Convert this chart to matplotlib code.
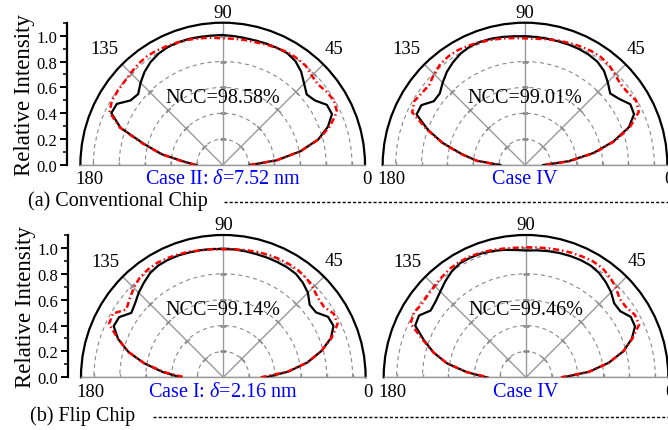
import numpy as np
import matplotlib
matplotlib.use("Agg")
import matplotlib.pyplot as plt
from matplotlib.lines import Line2D
from matplotlib.transforms import offset_copy

plt.rcParams['font.family'] = ['Liberation Serif', 'DejaVu Serif']
plt.rcParams['mathtext.fontset'] = 'custom'
plt.rcParams['mathtext.rm'] = 'Liberation Serif'
plt.rcParams['mathtext.it'] = 'Liberation Serif:italic'

# sample angles (deg) and relative intensity
theta_deg = np.arange(0, 181, 5)

tl_black = [0.21, 0.42, 0.61, 0.765, 0.866, 0.932, 0.93, 0.87, 0.848, 0.89, 0.943, 0.98, 0.998,
            0.998, 0.997, 0.995, 0.996, 1.0, 1.005, 1.004, 1.006, 1.009, 1.009, 1.006, 0.993,
            0.972, 0.94, 0.898, 0.853, 0.87, 0.945, 0.95, 0.84, 0.63, 0.478, 0.30, 0.204]
tl_red = [0.21, 0.42, 0.61, 0.77, 0.885, 0.975, 0.993, 0.984, 0.965, 0.975, 1.0, 1.005, 1.006,
          0.997, 0.99, 0.982, 0.981, 0.98, 0.979, 0.988, 0.995, 1.003, 1.01, 1.015, 1.022,
          1.024, 1.018, 1.005, 0.996, 0.993, 0.99, 0.965, 0.845, 0.64, 0.48, 0.31, 0.21]
tr_black = [0.14, 0.34, 0.54, 0.71, 0.855, 0.93, 0.94, 0.89, 0.86, 0.905, 0.95, 0.975, 0.985,
            0.989, 0.99, 0.99, 0.991, 0.993, 0.995, 0.999, 1.005, 1.011, 1.013, 1.01, 0.995,
            0.97, 0.94, 0.90, 0.86, 0.86, 0.925, 0.925, 0.80, 0.66, 0.50, 0.375, 0.19]
tr_red = [0.16, 0.35, 0.55, 0.72, 0.865, 0.97, 0.993, 0.972, 0.968, 0.985, 1.01, 1.02, 1.019,
          1.012, 1.004, 0.995, 0.987, 0.98, 0.979, 0.985, 0.993, 1.002, 1.012, 1.02, 1.028,
          1.028, 1.018, 0.995, 0.965, 0.972, 0.988, 0.962, 0.81, 0.66, 0.51, 0.375, 0.20]
bl_black = [0.33, 0.505, 0.66, 0.785, 0.885, 0.94, 0.935, 0.875, 0.872, 0.925, 0.956, 0.977, 0.983,
            0.984, 0.985, 0.986, 0.989, 0.992, 0.992, 0.995, 0.998, 1.0, 1.004, 1.004, 1.0,
            0.985, 0.955, 0.925, 0.89, 0.868, 0.93, 0.935, 0.865, 0.76, 0.62, 0.47, 0.33]
bl_red = [0.29, 0.50, 0.66, 0.785, 0.89, 0.975, 0.985, 0.95, 0.955, 0.98, 1.0, 1.01, 1.012,
          1.011, 1.009, 1.004, 0.998, 0.993, 0.99, 0.993, 0.997, 1.006, 1.012, 1.018, 1.022,
          1.017, 1.005, 0.978, 0.945, 0.915, 0.985, 0.975, 0.865, 0.76, 0.62, 0.46, 0.30]
br_black = [0.29, 0.49, 0.65, 0.78, 0.87, 0.93, 0.935, 0.89, 0.89, 0.93, 0.96, 0.985, 0.998,
            1.0, 0.998, 0.995, 0.99, 0.985, 0.98, 0.988, 1.0, 1.01, 1.018, 1.02, 1.019,
            1.0, 0.97, 0.937, 0.912, 0.90, 0.955, 0.945, 0.84, 0.74, 0.62, 0.46, 0.306]
br_red = [0.27, 0.49, 0.65, 0.78, 0.875, 0.965, 0.97, 0.945, 0.945, 0.982, 1.01, 1.03, 1.035,
          1.03, 1.025, 1.018, 1.012, 1.008, 1.005, 1.005, 1.01, 1.018, 1.025, 1.03, 1.03,
          1.025, 1.012, 1.0, 0.99, 0.985, 1.0, 0.985, 0.85, 0.74, 0.62, 0.46, 0.29]

ncc_text = ['NCC=98.58%', 'NCC=99.01%', 'NCC=99.14%', 'NCC=99.46%']
case_text = ['Case II: $\\delta$=7.52 nm', 'Case IV', 'Case I: $\\delta$=2.16 nm', 'Case IV']
row_text = ['(a) Conventional Chip', '(b) Flip Chip']

W, H = 668, 431
fig = plt.figure(figsize=(W / 100, H / 100), dpi=100)

GRAY = '#999999'


def px_rect(cx, cy, R):
    # polar axes box is square; the half disc sits with its baseline at 1/4 height
    return [(cx - R) / W, (H - cy - R / 2) / H, 2 * R / W, 2 * R / H]


def half_polar(rect, black, red, ncc, case):
    ax = fig.add_axes(rect, projection='polar')
    ax.set_thetamin(0)
    ax.set_thetamax(180)
    ax.set_rlim(0, 1.1)
    ax.set_xticks(np.radians([0, 45, 90, 135, 180]))
    ax.set_xticks(np.radians([22.5, 67.5, 112.5, 157.5]), minor=True)
    ax.set_xticklabels([])
    ax.set_yticks([0.2, 0.4, 0.6, 0.8, 1.0])
    ax.set_yticklabels([])
    ax.tick_params(axis='y', length=0)
    ax.tick_params(axis='x', which='major', direction='in', length=6, width=1.6, color='k', pad=0)
    ax.tick_params(axis='x', which='minor', direction='in', length=3.5, width=1.0, color='k')
    ax.xaxis.grid(True, color=GRAY, lw=1.0, ls='-')
    ax.yaxis.grid(True, color='#888888', lw=0.8, ls=(0, (3.6, 3.2)))
    ax.spines['polar'].set_linewidth(1.6)
    ax.spines['polar'].set_color('k')
    for s in ('start', 'end'):
        ax.spines[s].set_color(GRAY)
        ax.spines[s].set_linewidth(1.0)
    ax.spines['inner'].set_visible(False)

    # small ticks along spokes and baseline
    rt = [0.2, 0.4, 0.6, 0.8, 1.0]
    for phi in (0, 45, 90, 135, 180):
        ax.plot(np.full(len(rt), np.radians(phi)), rt, ls='none', marker=(2, 2, phi),
                ms=5, mec=GRAY, mew=0.9, zorder=1.5)

    th = np.radians(theta_deg)
    ax.plot(th, black, color='k', lw=1.6, zorder=3)
    ax.plot(th, red, color='#ff0000', lw=1.8, ls=(0, (2.4, 1.2, 0.6, 1.2)), zorder=4)

    fs = 13.5
    ax.text(np.radians(90), 1.18, '90', ha='center', va='center', fontsize=fs, clip_on=False)
    ax.text(np.radians(46.5), 1.245, '45', ha='center', va='center', fontsize=fs, clip_on=False)
    ax.text(np.radians(135.5), 1.28, '135', ha='center', va='center', fontsize=fs, clip_on=False)
    t180 = offset_copy(ax.transData, fig=fig, x=9, y=-14, units='dots')
    t0 = offset_copy(ax.transData, fig=fig, x=2, y=-14, units='dots')
    ax.text(np.pi, 1.1, '180', transform=t180, ha='center', va='center', fontsize=fs, clip_on=False)
    ax.text(0, 1.1, '0', transform=t0, ha='center', va='center', fontsize=fs, clip_on=False)

    ax.text(np.radians(90), 0.525, ncc, ha='center', va='center', fontsize=14.5, zorder=5)
    tc = offset_copy(ax.transData, fig=fig, x=0, y=-14, units='dots')
    ax.text(np.radians(90), 0.0, case, transform=tc, ha='center', va='center',
            fontsize=14.5, color='#0000ff', clip_on=False)
    return ax


def y_axis(x_px, base_px, top_px):
    ya = fig.add_axes([x_px / W, (H - base_px) / H, 0.0001, (base_px - top_px) / H])
    ya.set_ylim(0, 1.1)
    for s in ('top', 'right', 'bottom'):
        ya.spines[s].set_visible(False)
    ya.spines['left'].set_linewidth(1.6)
    ya.set_xticks([])
    ya.set_yticks(np.arange(0, 1.01, 0.2))
    ya.set_yticks(np.arange(0.1, 1.11, 0.2), minor=True)
    ya.set_yticklabels(['%.1f' % v for v in np.arange(0, 1.01, 0.2)], fontsize=12)
    ya.tick_params(axis='y', which='major', direction='out', length=5, width=1.4, pad=2)
    ya.tick_params(axis='y', which='minor', direction='out', length=3, width=1.1)
    ya.set_ylabel('Relative Intensity', fontsize=16.5, labelpad=1)
    ya.patch.set_visible(False)
    return ya


R = 142.3
half_polar(px_rect(222.7, 166, R), tl_black, tl_red, ncc_text[0], case_text[0])
half_polar(px_rect(525.0, 166, R), tr_black, tr_red, ncc_text[1], case_text[1])
half_polar(px_rect(223.3, 378.3, R), bl_black, bl_red, ncc_text[2], case_text[2])
half_polar(px_rect(526.0, 378.3, R), br_black, br_red, ncc_text[3], case_text[3])

y_axis(66.7, 166, 166 - R)
y_axis(68.0, 378.3, 378.3 - R)

# row captions with dashed leaders
fig.text(28 / W, 1 - 201.5 / H, row_text[0], fontsize=14.5, ha='left', va='center')
fig.add_artist(Line2D([224 / W, 1.0], [1 - 203 / H] * 2, transform=fig.transFigure,
                      color='k', lw=1.0, ls=(0, (2.2, 1.5))))
fig.text(30 / W, 1 - 416.5 / H, row_text[1], fontsize=14.5, ha='left', va='center')
fig.add_artist(Line2D([153 / W, 1.0], [1 - 418 / H] * 2, transform=fig.transFigure,
                      color='k', lw=1.0, ls=(0, (2.2, 1.5))))

fig.savefig('out.png', dpi=100)
